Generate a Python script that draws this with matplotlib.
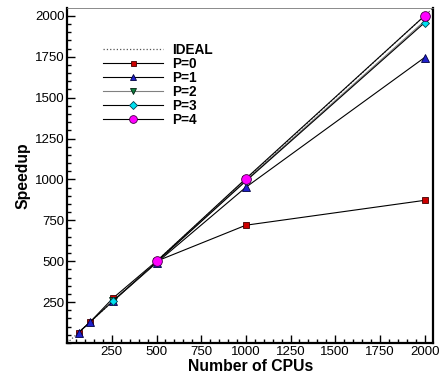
import matplotlib.pyplot as plt
from matplotlib.ticker import MultipleLocator

# CPU counts and measured speedups per setting
ideal_x = [0, 2048]
ideal_y = [0, 2048]
cpus_p0 = [64, 128, 256, 500, 1000, 2000]
speedup_p0 = [64, 128, 274, 500, 720, 872]
cpus_p1 = [64, 128, 256, 500, 1000, 2000]
speedup_p1 = [64, 128, 256, 490, 952, 1745]
cpus_p2 = [256, 500, 1000, 2000]
speedup_p2 = [258, 495, 995, 1968]
cpus_p3 = [256, 500, 1000, 2000]
speedup_p3 = [256, 495, 990, 1958]
cpus_p4 = [500, 1000, 2000]
speedup_p4 = [500, 1005, 2000]

plt.rcParams['font.family'] = ['Liberation Sans', 'DejaVu Sans']

fig = plt.figure(figsize=(4.42, 3.79), dpi=100)
ax = fig.add_axes([0.152, 0.095, 0.828, 0.884])

ax.plot(ideal_x, ideal_y, linestyle=':', color='#555555', lw=0.9, label='IDEAL')
ax.plot(cpus_p0, speedup_p0, color='black', lw=0.8, marker='s', ms=4.5,
        mfc='#cc0000', mec='#400000', mew=0.6, label='P=0')
ax.plot(cpus_p1, speedup_p1, color='black', lw=0.8, marker='^', ms=5.5,
        mfc='#2020cc', mec='#000040', mew=0.6, label='P=1')
ax.plot(cpus_p2, speedup_p2, color='#808080', lw=0.8, marker='v', ms=5.5,
        mfc='#108040', mec='#002010', mew=0.6, label='P=2')
ax.plot(cpus_p3, speedup_p3, color='black', lw=0.8, marker='D', ms=4.5,
        mfc='#00e0f0', mec='#004050', mew=0.6, label='P=3')
ax.plot(cpus_p4, speedup_p4, color='black', lw=0.8, marker='o', ms=7,
        mfc='#ff00ff', mec='#400040', mew=0.6, label='P=4')

ax.set_xlim(0, 2048)
ax.set_ylim(0, 2048)
ax.xaxis.set_minor_locator(MultipleLocator(50))
ax.yaxis.set_minor_locator(MultipleLocator(50))
ax.set_xticks([250, 500, 750, 1000, 1250, 1500, 1750, 2000])
ax.set_yticks([250, 500, 750, 1000, 1250, 1500, 1750, 2000])
ax.tick_params(which='both', direction='in', top=False, right=False,
               labelsize=9.5, pad=2)
ax.tick_params(which='major', length=6, width=1)
ax.tick_params(which='minor', length=3, width=1)

for side in ['left', 'bottom', 'right']:
    ax.spines[side].set_linewidth(1.6)
ax.spines['top'].set_linewidth(0.6)
ax.spines['top'].set_color('#777777')

ax.set_xlabel('Number of CPUs', fontsize=11.3, fontweight='bold', labelpad=1)
ax.set_ylabel('Speedup', fontsize=11.3, fontweight='bold', labelpad=3)

leg = ax.legend(loc='upper left', bbox_to_anchor=(0.072, 0.925), frameon=False,
                prop={'weight': 'bold', 'size': 9.8}, handlelength=4.4,
                handletextpad=0.7, labelspacing=0.0, borderpad=0.2,
                markerscale=0.8)

fig.savefig('out.png', dpi=100)
